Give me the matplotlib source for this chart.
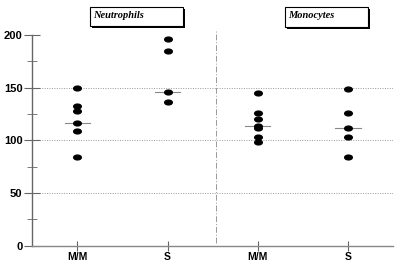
import matplotlib
matplotlib.use("Agg")
import matplotlib.pyplot as plt
from matplotlib.patches import Rectangle
from matplotlib.path import Path
from matplotlib.transforms import Affine2D

# ── Data ─────────────────────────────────────────────────────────────
groups = ["M/M", "S", "M/M", "S"]
panels = ["Neutrophils", "Monocytes"]
neut_mm = [150, 133, 128, 116, 109, 84]
neut_s = [196, 185, 146, 136]
mono_mm = [145, 126, 120, 114, 112, 103, 98]
mono_s = [149, 126, 112, 103, 84]
medians = [116, 146, 114, 112]
series = [neut_mm, neut_s, mono_mm, mono_s]

W, H = 402, 268
fig = plt.figure(figsize=(W / 100, H / 100), dpi=100)
fig.patch.set_facecolor("white")
ax = fig.add_axes([32.3 / W, (H - 245.7) / H, (393 - 32.3) / W, (245.7 - 35) / H])
ax.set_xlim(-0.5, 3.5)
ax.set_ylim(0, 200)

# ellipse marker (wider than tall)
ell = Path.unit_circle().transformed(Affine2D().scale(1.6, 1.0))

for i, vals in enumerate(series):
    ax.plot([i] * len(vals), vals, linestyle="none", marker=ell,
            markersize=5.5, color="black", clip_on=False, zorder=3)
    ax.plot([i - 0.14, i + 0.14], [medians[i], medians[i]], color="#888888",
            linewidth=0.8, zorder=2)

for yv in (50, 100, 150):
    ax.axhline(yv, color="#999999", linestyle=(0, (1, 1.5)), linewidth=0.7,
               zorder=1)
ax.plot([1.54, 1.54], [3, 206], color="#999999", linewidth=0.7,
        linestyle=(0, (6, 2, 1, 2)), clip_on=False, zorder=1)

for s in ("top", "right"):
    ax.spines[s].set_visible(False)
ax.spines["left"].set_bounds(0, 200)
ax.spines["left"].set_color("#666666")
ax.spines["bottom"].set_color("#888888")
ax.spines["left"].set_linewidth(1.0)
ax.spines["bottom"].set_linewidth(1.0)

ax.set_yticks([0, 50, 100, 150, 200])
ax.set_yticks([25, 75, 125, 175], minor=True)
ax.set_xticks(range(4))
ax.set_xticklabels(groups)
ax.tick_params(axis="y", which="major", direction="inout", length=12,
               color="#666666", labelsize=8, pad=1)
ax.tick_params(axis="y", which="minor", direction="inout", length=7,
               color="#666666")
ax.tick_params(axis="x", direction="inout", length=7, color="#666666",
               labelsize=7.5, pad=1)
for lab in ax.get_xticklabels() + ax.get_yticklabels():
    lab.set_fontweight("bold")
    lab.set_family("Liberation Sans")

# title boxes with drop shadow (pixel coords from top-left)
boxes = [(90, 7, 183, 26), (285, 7, 368, 27)]
for (x0, y0, x1, y1), name in zip(boxes, panels):
    fx, fy = x0 / W, (H - y1) / H
    fw, fh = (x1 - x0) / W, (y1 - y0) / H
    fig.patches.append(Rectangle((fx + 2 / W, fy - 2 / H), fw, fh,
                                 transform=fig.transFigure,
                                 facecolor="black", edgecolor="none"))
    fig.patches.append(Rectangle((fx, fy), fw, fh, transform=fig.transFigure,
                                 facecolor="white", edgecolor="black",
                                 linewidth=0.8))
    fig.text((x0 + 3) / W, (H - 15) / H, name, family="Liberation Serif",
             style="italic", weight="bold", fontsize=7.5, va="center",
             ha="left")

fig.savefig("out.png", dpi=100, facecolor="white")
